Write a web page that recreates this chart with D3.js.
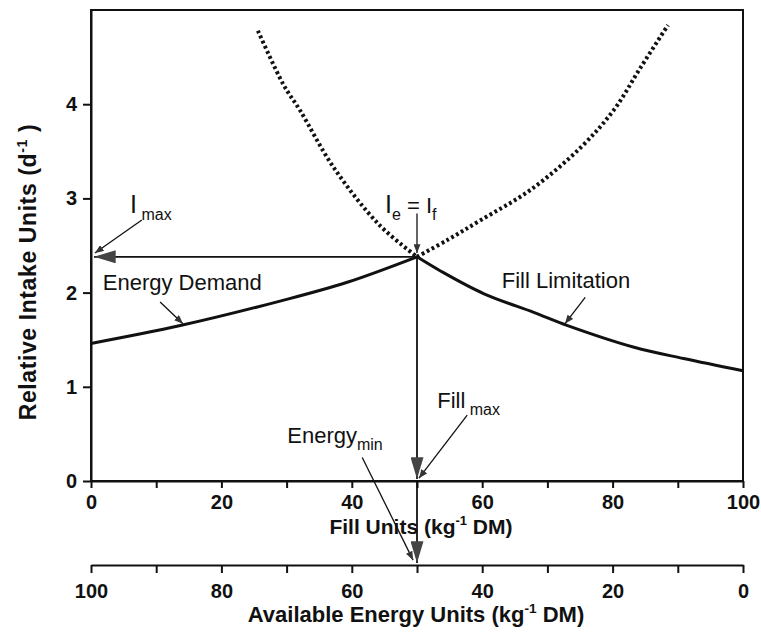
<!DOCTYPE html>
<html>
<head>
<meta charset="utf-8">
<script src="https://cdn.jsdelivr.net/npm/d3@7.9.0/dist/d3.min.js"></script>
<style>
  body { margin: 0; background: #fff; }
  svg { display: block; font-family: "Liberation Sans", Arial, sans-serif; }
  .axis path, .axis line { stroke: #111; stroke-width: 2; }
  .axis text { font-size: 20px; font-weight: bold; fill: #111; }
</style>
</head>
<body>
<div id="chart"></div>
<script>
/* ---------- data ---------- */
// energy demand curve (solid part, fill 0..50)
const energyX = [0, 13.7, 29, 39.3, 50];
const energyY = [1.46, 1.65, 1.91, 2.11, 2.38];
// energy demand continued (dotted, fill 50..88)
const energyDotX = [50, 54.7, 59.8, 67.4, 75.1, 80.2, 84.3, 88.5];
const energyDotY = [2.38, 2.56, 2.77, 3.09, 3.54, 3.94, 4.39, 4.84];
// fill limitation curve (solid part, fill 50..100)
const fillX = [50, 53.6, 60.2, 67.9, 73.1, 83.3, 90.9, 100];
const fillY = [2.38, 2.23, 1.99, 1.79, 1.65, 1.42, 1.30, 1.17];
// fill limitation continued (dotted, fill 26..50)
const fillDotX = [25.6, 29.5, 32.1, 37.2, 44.2, 50];
const fillDotY = [4.78, 4.21, 3.93, 3.33, 2.72, 2.38];

const optimum = { x: 50, y: 2.38 };

const yTicks = [0, 1, 2, 3, 4];
const fillTicks = [0, 10, 20, 30, 40, 50, 60, 70, 80, 90, 100];
const energyTicks = [100, 90, 80, 70, 60, 50, 40, 30, 20, 10, 0];

/* ---------- layout ---------- */
const width = 761, height = 632;
const plot = { left: 91, right: 743, top: 10, bottom: 481 };
const axis2Y = 565;

const svg = d3.select('#chart').append('svg')
  .attr('width', width).attr('height', height);

const x = d3.scaleLinear().domain([0, 100]).range([plot.left, plot.right]);
const y = d3.scaleLinear().domain([0, 5]).range([plot.bottom, plot.top]);
const xE = d3.scaleLinear().domain([100, 0]).range([plot.left, plot.right]);

// arrowheads
const defs = svg.append('defs');
defs.append('marker').attr('id', 'big')
  .attr('viewBox', '0 0 20 12').attr('refX', 20).attr('refY', 6)
  .attr('markerUnits', 'userSpaceOnUse')
  .attr('markerWidth', 22).attr('markerHeight', 13).attr('orient', 'auto')
  .append('path').attr('d', 'M0,0L20,6L0,12Z').attr('fill', '#444');
defs.append('marker').attr('id', 'small')
  .attr('viewBox', '0 0 10 8').attr('refX', 10).attr('refY', 4)
  .attr('markerUnits', 'userSpaceOnUse')
  .attr('markerWidth', 9).attr('markerHeight', 7).attr('orient', 'auto')
  .append('path').attr('d', 'M0,0L10,4L0,8Z').attr('fill', '#333');

// frame
svg.append('rect')
  .attr('x', plot.left).attr('y', plot.top)
  .attr('width', plot.right - plot.left).attr('height', plot.bottom - plot.top)
  .attr('fill', 'none').attr('stroke', '#111').attr('stroke-width', 2);

// axes
svg.append('g').attr('class', 'axis')
  .attr('transform', `translate(${plot.left},0)`)
  .call(d3.axisLeft(y).tickValues(yTicks).tickFormat(d3.format('d'))
    .tickSize(8).tickSizeOuter(0).tickPadding(6));

svg.append('g').attr('class', 'axis')
  .attr('transform', `translate(0,${plot.bottom})`)
  .call(d3.axisBottom(x).tickValues(fillTicks)
    .tickFormat(d => d % 20 === 0 ? d : '')
    .tickSize(7).tickSizeOuter(0).tickPadding(7));

svg.append('g').attr('class', 'axis')
  .attr('transform', `translate(0,${axis2Y})`)
  .call(d3.axisBottom(xE).tickValues(energyTicks)
    .tickFormat(d => d % 20 === 0 ? d : '')
    .tickSize(8).tickSizeOuter(0).tickPadding(11));

// axis titles
function unitTitle(g, main, sup, tail) {
  g.append('tspan').text(main);
  g.append('tspan').text(sup).attr('font-size', '0.62em').attr('dy', -9);
  g.append('tspan').text(tail).attr('dy', 9);
}
const titleStyle = t => t.attr('font-size', 21).attr('font-weight', 'bold')
  .attr('fill', '#111').attr('text-anchor', 'middle');

svg.append('text').call(titleStyle)
  .attr('x', 421).attr('y', 534)
  .call(unitTitle, 'Fill Units (kg', '-1', ' DM)');

svg.append('text').call(titleStyle)
  .attr('x', 416).attr('y', 622).attr('font-size', 22)
  .call(unitTitle, 'Available Energy Units (kg', '-1', ' DM)');

svg.append('text').call(titleStyle)
  .attr('transform', 'translate(36,272) rotate(-90)')
  .attr('font-size', 23).attr('letter-spacing', 0.6)
  .call(unitTitle, 'Relative Intake Units (d', '-1', ' )');

// curves
const line = d3.line().x(d => x(d[0])).y(d => y(d[1])).curve(d3.curveCatmullRom.alpha(0.5));
const zip = (a, b) => a.map((v, i) => [v, b[i]]);

svg.append('path').datum(zip(energyDotX, energyDotY))
  .attr('d', line).attr('fill', 'none').attr('stroke', '#111')
  .attr('stroke-width', 4).attr('stroke-dasharray', '2.8,2.8');
svg.append('path').datum(zip(fillDotX, fillDotY))
  .attr('d', line).attr('fill', 'none').attr('stroke', '#111')
  .attr('stroke-width', 4).attr('stroke-dasharray', '2.8,2.8');

svg.append('path').datum(zip(energyX, energyY))
  .attr('d', line).attr('fill', 'none').attr('stroke', '#111').attr('stroke-width', 3);
svg.append('path').datum(zip(fillX, fillY))
  .attr('d', line).attr('fill', 'none').attr('stroke', '#111').attr('stroke-width', 3);

// optimum arrows
svg.append('line')
  .attr('x1', x(optimum.x)).attr('y1', y(optimum.y))
  .attr('x2', x(0) + 3).attr('y2', y(optimum.y))
  .attr('stroke', '#111').attr('stroke-width', 1.8).attr('marker-end', 'url(#big)');
svg.append('line')
  .attr('x1', x(optimum.x)).attr('y1', y(optimum.y))
  .attr('x2', x(optimum.x)).attr('y2', y(0) - 2)
  .attr('stroke', '#111').attr('stroke-width', 1.8).attr('marker-end', 'url(#big)');
svg.append('line')
  .attr('x1', x(optimum.x)).attr('y1', y(0))
  .attr('x2', x(optimum.x)).attr('y2', axis2Y - 2)
  .attr('stroke', '#111').attr('stroke-width', 1.8).attr('marker-end', 'url(#big)');

// annotations (data coordinates)
const annText = (tx, ty, parts) => {
  const t = svg.append('text').attr('x', x(tx)).attr('y', y(ty))
    .attr('font-size', 22).attr('fill', '#111');
  parts.forEach(p => {
    const s = t.append('tspan').text(p.t);
    if (p.big) s.attr('font-size', 25);
    if (p.sub) s.attr('font-size', 16).attr('dy', 7);
    if (p.up) s.attr('dy', -7);
  });
  return t;
};
const pointer = (x1, y1, x2, y2) => svg.append('line')
  .attr('x1', x(x1)).attr('y1', y(y1)).attr('x2', x(x2)).attr('y2', y(y2))
  .attr('stroke', '#111').attr('stroke-width', 1.3).attr('marker-end', 'url(#small)');

annText(6.0, 2.85, [{ t: 'I', big: true }, { t: ' max', sub: true }]);
pointer(7.8, 2.77, 0.6, 2.42);

annText(45.1, 2.85, [{ t: 'I', big: true }, { t: 'e', sub: true }, { t: ' = I', up: true }, { t: 'f', sub: true }]);
pointer(50, 2.84, 50, 2.42);

annText(1.8, 2.03, [{ t: 'Energy Demand' }]);
pointer(10.6, 1.90, 14.1, 1.67);

annText(63.0, 2.05, [{ t: 'Fill Limitation' }]);
pointer(75.8, 1.95, 72.7, 1.67);

annText(53.1, 0.77, [{ t: 'Fill' }, { t: ' max', sub: true }]);
pointer(57.7, 0.70, 50.3, 0.03);

annText(30.1, 0.40, [{ t: 'Energy' }, { t: 'min', sub: true }]);
pointer(41.6, 0.25, 49.4, -0.84);
</script>
</body>
</html>
